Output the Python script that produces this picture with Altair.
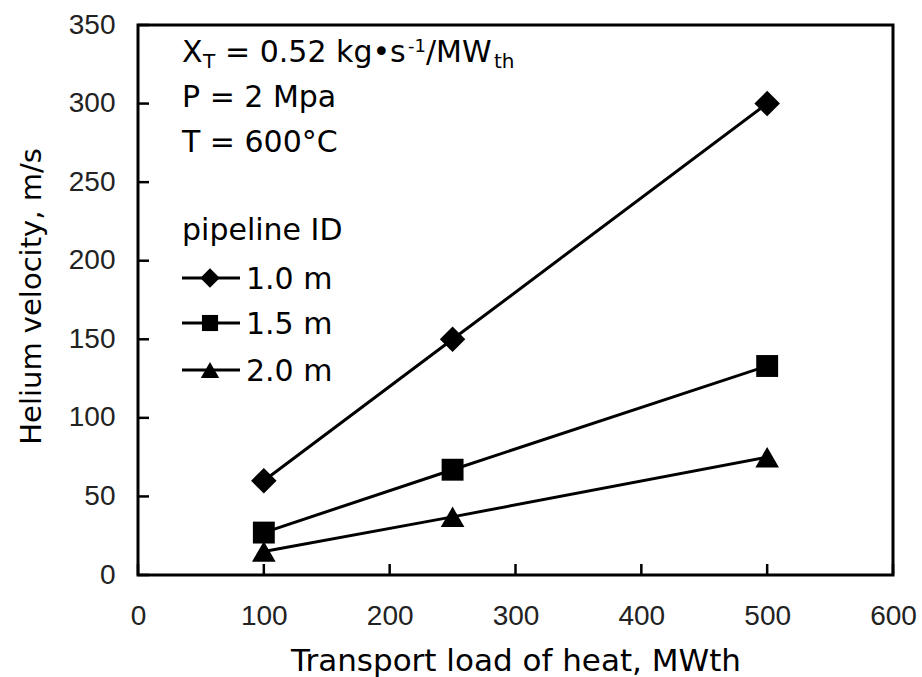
import altair as alt
import pandas as pd

# ---- data ----
load = [100, 250, 500]
v_10 = [60, 150, 300]
v_15 = [27, 67, 133]
v_20 = [15, 37, 75]
series_names = ["1.0 m", "1.5 m", "2.0 m"]
series_shapes = ["diamond", "square", "triangle-up"]
x_ticks = [0, 100, 200, 300, 400, 500, 600]
y_ticks = [0, 50, 100, 150, 200, 250, 300, 350]

rows = []
for name, vals in zip(series_names, [v_10, v_15, v_20]):
    for x, v in zip(load, vals):
        rows.append({"load": x, "velocity": v, "series": name})
df = pd.DataFrame(rows)

W, H = 755, 550
BODY = "DejaVu Sans"
TICKF = "Liberation Sans"

x_scale = alt.Scale(domain=[0, 600], nice=False, zero=False)
y_scale = alt.Scale(domain=[0, 350], nice=False, zero=False)

x_axis = alt.Axis(values=x_ticks, ticks=False, domain=False, grid=False,
                  labelFont=TICKF, labelFontSize=28, labelColor="#222222",
                  labelPadding=27, labelFlush=False, labelOverlap=False,
                  title="Transport load of heat, MWth", titleFont=BODY,
                  titleFontSize=31, titleFontWeight="normal", titleColor="black",
                  titleX=W / 2, titleY=95, titleAlign="center",
                  titleBaseline="alphabetic")
y_axis = alt.Axis(values=y_ticks, ticks=False, domain=False, grid=False,
                  labelFont=TICKF, labelFontSize=28, labelColor="#222222",
                  labelPadding=23, labelFlush=False, labelOverlap=False,
                  title="Helium velocity, m/s", titleFont=BODY,
                  titleFontSize=29, titleFontWeight="normal", titleColor="black",
                  titleAngle=270, titleX=-98, titleY=271, titleAlign="center",
                  titleBaseline="alphabetic")

base = alt.Chart(df)
lines = base.mark_line(color="black", strokeWidth=3).encode(
    x=alt.X("load:Q", scale=x_scale, axis=x_axis),
    y=alt.Y("velocity:Q", scale=y_scale, axis=y_axis),
    detail="series:N",
)

marker_sizes = [650, 480, 560]
point_layers = []
for name, shp, sz in zip(series_names, series_shapes, marker_sizes):
    point_layers.append(base.transform_filter(alt.datum.series == name).mark_point(
        shape=shp, size=sz, filled=True, opacity=1, color="black").encode(
        x=alt.X("load:Q", scale=x_scale),
        y=alt.Y("velocity:Q", scale=y_scale)))

# inward tick marks
xt = alt.Chart(pd.DataFrame({"t": x_ticks})).mark_rule(color="black", strokeWidth=2.5).encode(
    x=alt.X("t:Q", scale=x_scale), y=alt.value(H), y2=alt.value(H - 11))
yt = alt.Chart(pd.DataFrame({"t": y_ticks})).mark_rule(color="black", strokeWidth=2.5).encode(
    y=alt.Y("t:Q", scale=y_scale), x=alt.value(0), x2=alt.value(11))

one = alt.Data(values=[{}])

def txt(s, x, y, size, font=BODY):
    return alt.Chart(one).mark_text(text=s, align="left", baseline="alphabetic",
                                    font=font, fontSize=size, color="black").encode(
        x=alt.value(x), y=alt.value(y))

annot = [
    txt("X", 44, 37, 30),
    txt("T", 65, 43, 20),
    txt("= 0.52 kg\u2022s", 87, 37, 30),
    txt("-1", 270, 27, 18),
    txt("/MW", 288, 37, 30),
    txt("th", 356, 43, 20),
    txt("P = 2 Mpa", 44, 82, 30),
    txt("T = 600\u00b0C", 44, 127, 30),
    txt("pipeline ID", 44, 215, 30),
]

leg_y = [253, 298, 345]
leg_sizes = [380, 260, 340]
legend_layers = []
for name, shp, ly, sz in zip(series_names, series_shapes, leg_y, leg_sizes):
    legend_layers.append(alt.Chart(one).mark_rule(color="black", strokeWidth=3).encode(
        x=alt.value(44), x2=alt.value(102), y=alt.value(ly)))
    legend_layers.append(alt.Chart(one).mark_point(shape=shp, filled=True, opacity=1,
                                                   color="black", size=sz).encode(
        x=alt.value(72), y=alt.value(ly)))
    legend_layers.append(txt(name, 108, ly + 11, 30))

chart = alt.layer(lines, *point_layers, xt, yt, *annot, *legend_layers).properties(
    width=W, height=H,
    autosize=alt.AutoSizeParams(type="none"),
    padding={"left": 138, "top": 25, "right": 29, "bottom": 102},
    background="white",
).configure_view(stroke="black", strokeWidth=3)

chart.save("out.html", embed_options={"renderer": "svg", "actions": False})
